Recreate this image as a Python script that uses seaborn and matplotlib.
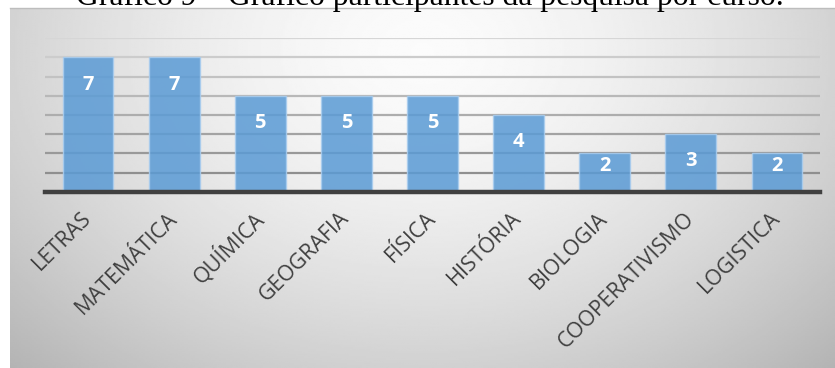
import numpy as np
import matplotlib
matplotlib.use("Agg")
import matplotlib.pyplot as plt
import seaborn as sns
from matplotlib.colors import to_rgba

# Participants per course
cursos = ["LETRAS", "MATEMÁTICA", "QUÍMICA", "GEOGRAFIA", "FÍSICA",
          "HISTÓRIA", "BIOLOGIA", "COOPERATIVISMO", "LOGISTICA"]
participantes = [7, 7, 5, 5, 5, 4, 2, 3, 2]
titulo = "Gráfico 9 – Gráfico participantes da pesquisa por curso."

sns.set_theme(style="white")
plt.rcParams["font.family"] = ["Open Sans", "DejaVu Sans"]

W, H = 835, 368
fig = plt.figure(figsize=(W / 100, H / 100), dpi=100)
fig.patch.set_facecolor("white")

# Chart area with a soft radial gray gradient
bg = fig.add_axes([10 / W, 0, (W - 10) / W, (H - 8) / H], zorder=0)
gx = np.linspace(0, 1, 400)
gy = np.linspace(0, 1, 200)
X, Y = np.meshgrid(gx, gy)
r = np.sqrt(((X - 0.5) / 0.62) ** 2 + ((Y - 0.12) / 1.05) ** 2)
shade = 0.985 - 0.22 * np.clip(r, 0, 1.2) ** 1.6
bg.imshow(shade, cmap="gray", vmin=0, vmax=1, aspect="auto",
          extent=[0, 1, 1, 0], interpolation="bilinear")
bg.set_xlim(0, 1)
bg.set_ylim(1, 0)
bg.set_xticks([])
bg.set_yticks([])
for side, sp in bg.spines.items():
    sp.set_visible(side == "top")
    sp.set_color("#bdbdbd")
    sp.set_linewidth(1.0)

# Bar chart
ax = fig.add_axes([45 / W, (H - 191.7) / H, 775 / W, (191.7 - 38.3) / H], zorder=1)
ax.patch.set_alpha(0)
sns.barplot(x=cursos, y=participantes, ax=ax, color="#5B9BD5",
            width=0.59, saturation=1, alpha=0.86,
            edgecolor="#a9cdef", linewidth=1.0, zorder=3)
ax.set_ylim(0, 8)
ax.set_xlim(-0.5, len(cursos) - 0.5)
ax.set_yticks(range(1, 9))
ax.set_yticklabels([])
ax.tick_params(axis="y", length=0)
ax.set_xlabel("")
ax.set_ylabel("")

# Horizontal gridlines, darker toward the baseline
ax.yaxis.grid(True, linewidth=1.6, zorder=1)
ax.set_axisbelow(True)
light = np.array(to_rgba("#d6d6d6"))
dark = np.array(to_rgba("#8f8f8f"))
for i, gl in enumerate(ax.get_ygridlines()):
    t = i / max(len(ax.get_ygridlines()) - 1, 1)
    gl.set_color(tuple(dark * (1 - t) + light * t))

for side in ["top", "right", "left"]:
    ax.spines[side].set_visible(False)
ax.spines["bottom"].set_color("#404040")
ax.spines["bottom"].set_linewidth(3.2)
ax.spines["bottom"].set_zorder(4)

ax.tick_params(axis="x", length=0, pad=17)
for lbl in ax.get_xticklabels():
    lbl.set_rotation(45)
    lbl.set_ha("right")
    lbl.set_va("center")
    lbl.set_rotation_mode("anchor")
    lbl.set_fontsize(15.5)
    lbl.set_color("#404040")

# Value labels inside the top of each bar
for bar, v in zip(ax.patches, participantes):
    ypos = v - 1.42 if v > 2.5 else v * 0.66
    ax.text(bar.get_x() + bar.get_width() / 2, ypos, str(v),
            ha="center", va="center", color="white",
            fontsize=14.5, fontweight="bold", zorder=5)

# Caption above the chart
fig.text(76 / W, (H - 5.5) / H, titulo, ha="left", va="baseline",
         fontsize=22.8, family="Liberation Serif", color="black")

fig.savefig("out.png", dpi=100)
